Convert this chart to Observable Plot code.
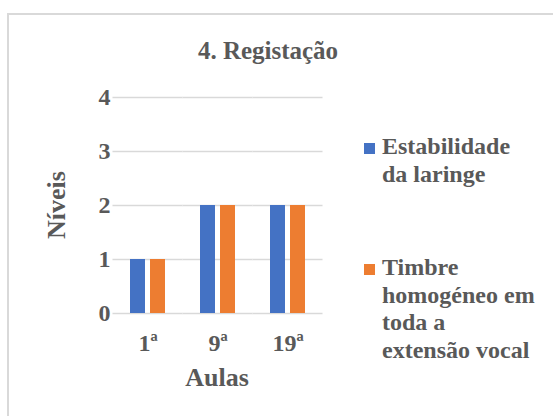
<!DOCTYPE html>
<html>
<head>
<meta charset="utf-8">
<script src="https://cdn.jsdelivr.net/npm/d3@7"></script>
<script src="https://cdn.jsdelivr.net/npm/@observablehq/plot@0.6"></script>
<style>
  html, body { margin: 0; padding: 0; background: #fff; }
  #wrap { position: relative; width: 553px; height: 416px; overflow: hidden; font-family: "Liberation Serif", "Times New Roman", serif; font-weight: bold; color: #595959; }
  #border { position: absolute; left: 7px; top: 13px; width: 620px; height: 500px; border: 2px solid #d9d9d9; box-sizing: border-box; }
  #chart { position: absolute; left: 0; top: 0; }
  .abs { position: absolute; white-space: nowrap; }
  #title { font-size: 25px; left: 0; width: 536px; text-align: center; top: 36px; line-height: 30px; }
  #xlabel { font-size: 26px; left: 117px; width: 200px; text-align: center; top: 363px; line-height: 30px; }
  #ylabel { font-size: 26px; left: 57px; top: 205px; transform: translate(-50%, -50%) rotate(-90deg); line-height: 30px; }
  .leg { position: absolute; left: 364px; font-size: 24px; line-height: 27.5px; }
  .leg .sw { position: absolute; left: 0; width: 11px; height: 11px; }
  .leg .tx { position: absolute; left: 18px; white-space: nowrap; font-family: "Liberation Serif", serif; }
</style>
</head>
<body>
<div id="wrap">
  <div id="border"></div>
  <div id="chart"></div>
  <div id="title" class="abs"></div>
  <div id="xlabel" class="abs"></div>
  <div id="ylabel" class="abs"></div>
  <div id="legend"></div>
</div>
<script>
const title = "4. Registação";
const xTitle = "Aulas";
const yTitle = "Níveis";
const categories = ["1ª", "9ª", "19ª"];
const seriesNames = ["Estabilidade da laringe", "Timbre homogéneo em toda a extensão vocal"];
const legendLines = [["Estabilidade", "da laringe"], ["Timbre", "homogéneo em", "toda a", "extensão vocal"]];
const estabilidade = [1, 2, 2];
const timbre = [1, 2, 2];
const yTicks = [0, 1, 2, 3, 4];
const colors = ["#4472C4", "#ED7D31"];

const data = categories.flatMap((c, i) => [
  {aula: c, serie: seriesNames[0], v: estabilidade[i]},
  {aula: c, serie: seriesNames[1], v: timbre[i]}
]);

const chart = Plot.plot({
  width: 553,
  height: 416,
  marginLeft: 112,
  marginRight: 231,
  marginTop: 97,
  marginBottom: 103,
  style: {fontFamily: "'Liberation Serif', 'Times New Roman', serif", fontWeight: "bold", fontSize: "24px", color: "#595959", background: "transparent", overflow: "visible"},
  fx: {domain: categories, paddingInner: 0.5, paddingOuter: 0.25, label: null, tickSize: 0, tickPadding: 20},
  x: {domain: seriesNames, axis: null, paddingInner: 0.25, paddingOuter: 0},
  y: {domain: [0, 4], ticks: yTicks, tickFormat: d3.format("d"), tickSize: 0, tickPadding: 20, label: null},
  color: {domain: seriesNames, range: colors},
  marks: [
    Plot.ruleY(yTicks, {stroke: "#d9d9d9", strokeWidth: 1.5, insetLeft: -17.5, insetRight: -17.5}),
    Plot.barY(data, {fx: "aula", x: "serie", y: "v", fill: "serie"})
  ]
});
document.getElementById("chart").appendChild(chart);
document.getElementById("title").textContent = title;
document.getElementById("xlabel").textContent = xTitle;
document.getElementById("ylabel").textContent = yTitle;

const legendTops = [133, 254];
const legend = document.getElementById("legend");
seriesNames.forEach((s, i) => {
  const item = document.createElement("div");
  item.className = "leg";
  item.style.top = legendTops[i] + "px";
  const sw = document.createElement("div");
  sw.className = "sw";
  sw.style.background = colors[i];
  sw.style.top = "9.5px";
  item.appendChild(sw);
  const tx = document.createElement("div");
  tx.className = "tx";
  tx.innerHTML = legendLines[i].map(l => l.replace(/&/g, "&amp;")).join("<br>");
  item.appendChild(tx);
  legend.appendChild(item);
});
</script>
</body>
</html>
